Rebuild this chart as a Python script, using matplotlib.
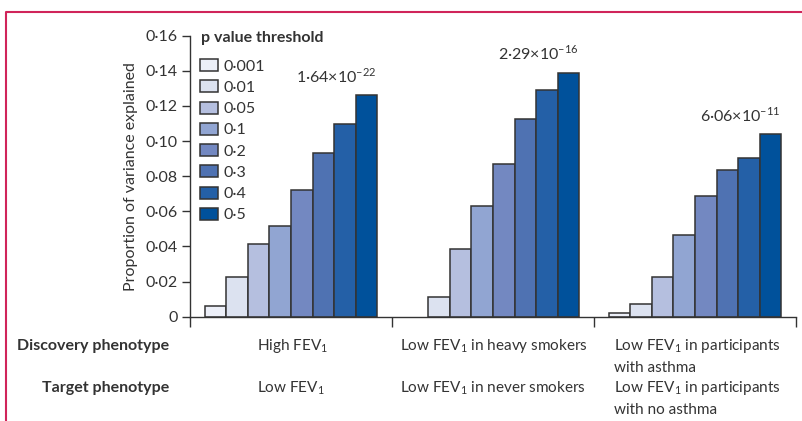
import numpy as np
import matplotlib
matplotlib.use('Agg')
import matplotlib.pyplot as plt
from matplotlib.patches import Patch
from matplotlib.lines import Line2D

# p value thresholds (legend) and colours
THRESHOLDS = ['0·001', '0·01', '0·05', '0·1', '0·2', '0·3', '0·4', '0·5']
COLORS = ['#eceff8', '#dce2f0', '#b5bfdf', '#91a5d2', '#7388c1', '#4f72b2', '#2460a7', '#00519b']

# proportion of variance explained, one list per group
HIGH_FEV1 = [0.0061, 0.0228, 0.0414, 0.0518, 0.0720, 0.0934, 0.1100, 0.1262]
HEAVY_SMOKERS = [0.0, 0.0114, 0.0387, 0.0630, 0.0868, 0.1126, 0.1290, 0.1390]
ASTHMA = [0.0023, 0.0074, 0.0228, 0.0463, 0.0686, 0.0835, 0.0902, 0.1040]

P_LABELS = [r'1·64×10$^{\mathregular{–22}}$', r'2·29×10$^{\mathregular{–16}}$', r'6·06×10$^{\mathregular{–11}}$']

DISCOVERY = ['High FEV$_{\\mathregular{1}}$', 'Low FEV$_{\\mathregular{1}}$ in heavy smokers',
             'Low FEV$_{\\mathregular{1}}$ in participants\nwith asthma']
TARGET = ['Low FEV$_{\\mathregular{1}}$', 'Low FEV$_{\\mathregular{1}}$ in never smokers',
          'Low FEV$_{\\mathregular{1}}$ in participants\nwith no asthma']

YTICKS = [0, 0.02, 0.04, 0.06, 0.08, 0.10, 0.12, 0.14, 0.16]
YTICKLABELS = ['0', '0·02', '0·04', '0·06', '0·08', '0·10', '0·12', '0·14', '0·16']

plt.rcParams['font.family'] = ['Lato', 'DejaVu Sans']
plt.rcParams['mathtext.fontset'] = 'custom'
plt.rcParams['mathtext.rm'] = 'Lato'

FS = 11.5
INK = '#333333'

fig = plt.figure(figsize=(8.03, 4.21), dpi=100)
ax = fig.add_axes([190 / 803, 1 - 316.7 / 421, 606 / 803, 281 / 421])

groups = [HIGH_FEV1, HEAVY_SMOKERS, ASTHMA]
w = 0.1065
for g, vals in enumerate(groups):
    xs = g + 0.5 + (np.arange(8) - 3.5) * w
    lws = [1.1 if v > 0 else 0 for v in vals]
    ax.bar(xs, vals, width=w, color=COLORS, edgecolor=INK, linewidth=lws, zorder=2)
    ax.text(xs[-1] + w / 2, vals[-1] + 0.0055, P_LABELS[g], ha='right', va='bottom',
            fontsize=FS, color=INK)

ax.set_xlim(0, 3)
ax.set_ylim(0, 0.16)
ax.set_yticks(YTICKS)
ax.set_yticklabels(YTICKLABELS, fontsize=FS, color=INK)
ax.set_xticks([0, 1, 2, 3])
ax.set_xticklabels([])
ax.tick_params(axis='both', direction='out', length=6, width=1, color=INK, pad=3)
ax.tick_params(axis='x', length=7)
for s in ['top', 'right']:
    ax.spines[s].set_visible(False)
for s in ['left', 'bottom']:
    ax.spines[s].set_linewidth(1)
    ax.spines[s].set_color(INK)
ax.set_ylabel('Proportion of variance explained', fontsize=FS, color=INK, labelpad=5)

# legend, title drawn separately so the gap can be set
fig.text(201 / 803, 1 - 38 / 421, 'p value threshold', ha='left', va='center',
         fontsize=FS, fontweight='bold', color=INK)
handles = [Patch(facecolor=c, edgecolor=INK, linewidth=1.1) for c in COLORS]
leg = ax.legend(handles, THRESHOLDS, loc='upper left',
                bbox_to_anchor=(0.0165, 0.917), frameon=False, fontsize=FS,
                handlelength=1.1, handleheight=0.78, handletextpad=0.4,
                labelspacing=0.42, borderpad=0, borderaxespad=0)
for t in leg.get_texts():
    t.set_color(INK)

# table below the axis
TFS = 11
fig.text(169 / 803, 1 - 346 / 421, 'Discovery phenotype', ha='right', va='center',
         fontsize=FS, fontweight='bold', color=INK)
fig.text(169 / 803, 1 - 388 / 421, 'Target phenotype', ha='right', va='center',
         fontsize=FS, fontweight='bold', color=INK)
lefts = [257, 400, 614]
for x, d, t in zip(lefts, DISCOVERY, TARGET):
    fig.text(x / 803, 1 - 337 / 421, d, ha='left', va='top', fontsize=TFS,
             color=INK, linespacing=1.5)
    fig.text(x / 803, 1 - 379 / 421, t, ha='left', va='top', fontsize=TFS,
             color=INK, linespacing=1.5)

# crimson frame at left and top
fig.add_artist(Line2D([6 / 803, 6 / 803, 1], [0, 1 - 12 / 421, 1 - 12 / 421],
                      transform=fig.transFigure, color='#d0245a', linewidth=1.5))

fig.savefig('out.png', dpi=100)
